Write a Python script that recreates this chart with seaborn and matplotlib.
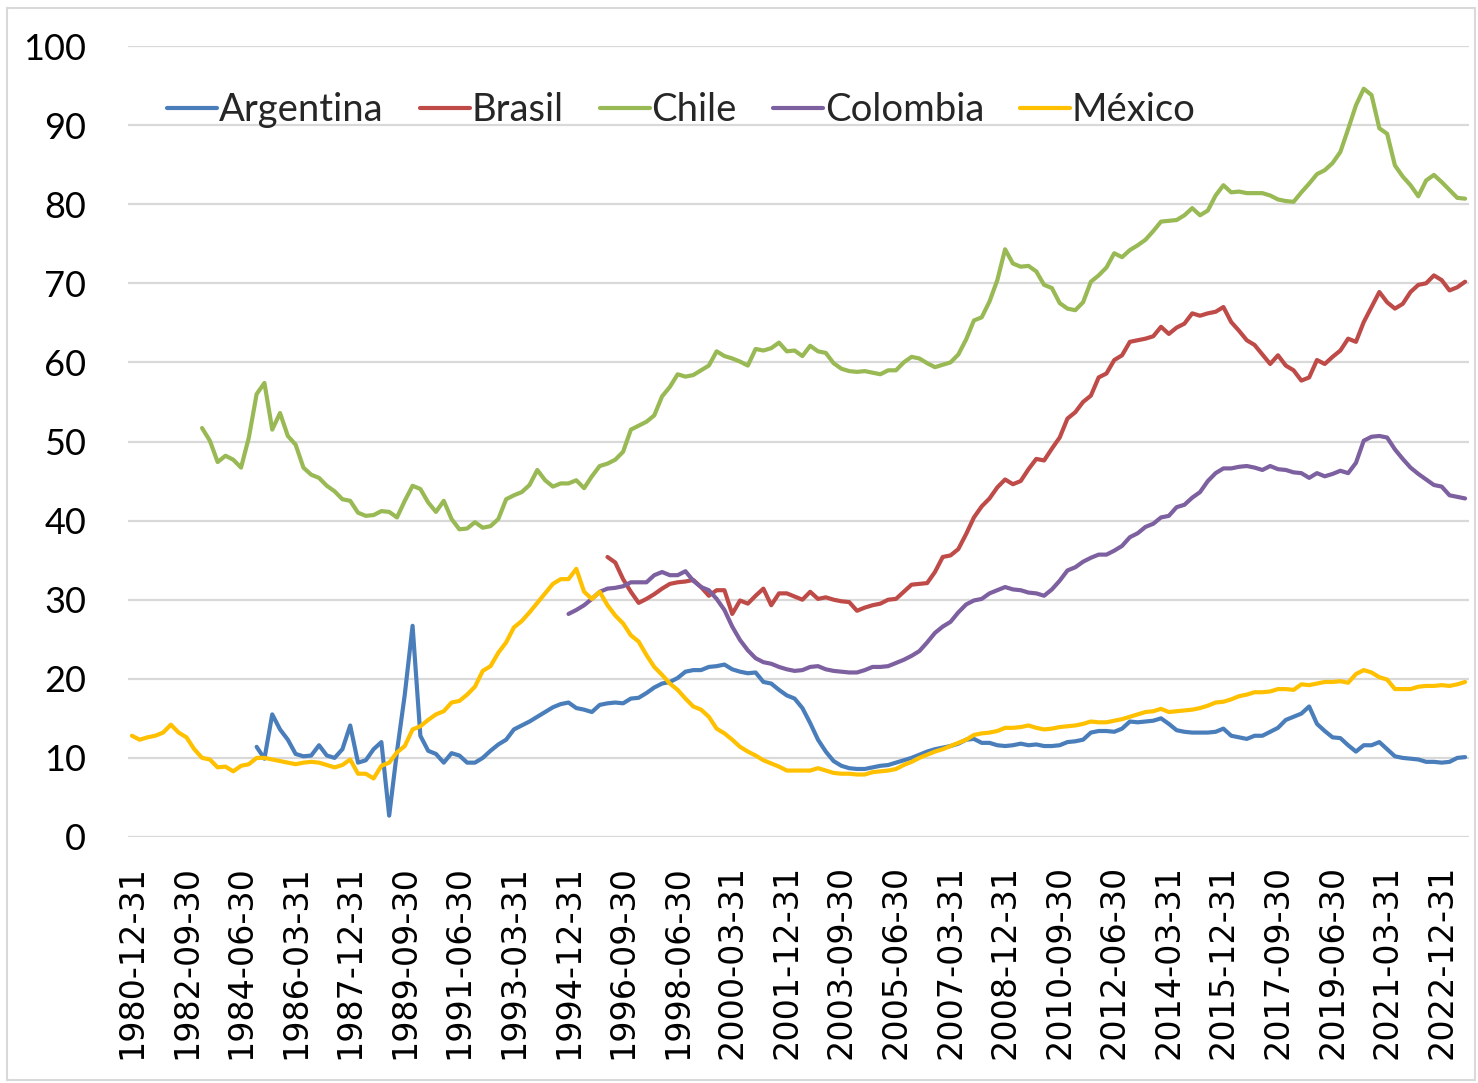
import numpy as np
import pandas as pd
import matplotlib
matplotlib.use("Agg")
import matplotlib.pyplot as plt
from matplotlib.patches import Rectangle
import seaborn as sns

# quarterly series, 1980-12-31 .. 2023-09-30
n_q = 172
dates = pd.date_range("1980-12-31", periods=n_q, freq="QE")

argentina_start = 16
argentina = [
    11.4, 9.9, 15.5, 13.6, 12.3, 10.5, 10.2, 10.3, 11.6, 10.3,
    10.0, 11.1, 14.1, 9.4, 9.7, 11.1, 12.0, 2.7, 10.8, 18.0,
    26.7, 12.8, 10.9, 10.5, 9.4, 10.6, 10.3, 9.4, 9.4, 10.0,
    10.9, 11.7, 12.3, 13.6, 14.1, 14.6, 15.2, 15.8, 16.4, 16.8,
    17.0, 16.3, 16.1, 15.8, 16.7, 16.9, 17.0, 16.9, 17.5, 17.6,
    18.2, 18.9, 19.4, 19.6, 20.1, 20.9, 21.1, 21.1, 21.5, 21.6,
    21.8, 21.2, 20.9, 20.7, 20.8, 19.6, 19.4, 18.6, 17.9, 17.5,
    16.3, 14.4, 12.3, 10.8, 9.6, 9.0, 8.7, 8.6, 8.6, 8.8,
    9.0, 9.1, 9.4, 9.7, 10.0, 10.4, 10.8, 11.1, 11.3, 11.5,
    11.8, 12.3, 12.4, 11.9, 11.9, 11.6, 11.5, 11.6, 11.8, 11.6,
    11.7, 11.5, 11.5, 11.6, 12.0, 12.1, 12.3, 13.2, 13.4, 13.4,
    13.3, 13.7, 14.6, 14.5, 14.6, 14.7, 15.0, 14.3, 13.5, 13.3,
    13.2, 13.2, 13.2, 13.3, 13.7, 12.8, 12.6, 12.4, 12.8, 12.8,
    13.3, 13.8, 14.8, 15.2, 15.6, 16.5, 14.3, 13.4, 12.6, 12.5,
    11.6, 10.8, 11.6, 11.6, 12.0, 11.1, 10.2, 10.0, 9.9, 9.8,
    9.5, 9.5, 9.4, 9.5, 10.0, 10.1,
]

brasil_start = 61
brasil = [
    35.4, 34.7, 32.6, 31.0, 29.6, 30.1, 30.7, 31.4, 32.0, 32.2,
    32.3, 32.5, 31.6, 30.5, 31.2, 31.2, 28.2, 29.9, 29.5, 30.5,
    31.4, 29.3, 30.8, 30.8, 30.4, 30.0, 31.0, 30.1, 30.3, 30.0,
    29.8, 29.7, 28.6, 29.0, 29.3, 29.5, 30.0, 30.1, 31.0, 31.9,
    32.0, 32.1, 33.5, 35.4, 35.6, 36.4, 38.3, 40.4, 41.8, 42.8,
    44.2, 45.2, 44.6, 45.0, 46.5, 47.8, 47.6, 49.1, 50.5, 52.9,
    53.7, 55.0, 55.8, 58.1, 58.6, 60.3, 60.9, 62.6, 62.8, 63.0,
    63.3, 64.5, 63.6, 64.4, 64.9, 66.2, 65.9, 66.2, 66.4, 67.0,
    65.1, 64.0, 62.8, 62.2, 61.0, 59.8, 60.9, 59.6, 59.0, 57.7,
    58.1, 60.3, 59.8, 60.7, 61.5, 63.0, 62.6, 65.1, 67.0, 68.9,
    67.6, 66.8, 67.4, 68.9, 69.8, 70.0, 71.0, 70.4, 69.1, 69.5,
    70.2,
]

chile_start = 9
chile = [
    51.7, 50.1, 47.4, 48.2, 47.7, 46.7, 50.5, 56.0, 57.4, 51.5,
    53.6, 50.7, 49.6, 46.7, 45.8, 45.4, 44.4, 43.7, 42.7, 42.5,
    41.0, 40.6, 40.7, 41.2, 41.1, 40.4, 42.5, 44.4, 44.0, 42.3,
    41.1, 42.5, 40.2, 38.9, 39.0, 39.8, 39.1, 39.3, 40.2, 42.7,
    43.2, 43.6, 44.5, 46.4, 45.1, 44.3, 44.7, 44.7, 45.1, 44.1,
    45.6, 46.9, 47.2, 47.7, 48.7, 51.5, 52.0, 52.5, 53.3, 55.7,
    56.9, 58.5, 58.2, 58.4, 59.0, 59.6, 61.4, 60.8, 60.5, 60.1,
    59.6, 61.7, 61.5, 61.8, 62.5, 61.4, 61.5, 60.8, 62.1, 61.4,
    61.2, 59.9, 59.2, 58.9, 58.8, 58.9, 58.7, 58.5, 59.0, 59.0,
    60.0, 60.7, 60.5, 59.9, 59.4, 59.7, 60.0, 61.0, 62.9, 65.3,
    65.7, 67.7, 70.4, 74.3, 72.5, 72.1, 72.2, 71.5, 69.8, 69.4,
    67.5, 66.8, 66.6, 67.6, 70.2, 71.0, 72.0, 73.8, 73.3, 74.2,
    74.8, 75.5, 76.6, 77.8, 77.9, 78.0, 78.6, 79.5, 78.6, 79.2,
    81.1, 82.4, 81.5, 81.6, 81.4, 81.4, 81.4, 81.1, 80.6, 80.4,
    80.3, 81.5, 82.6, 83.8, 84.3, 85.2, 86.6, 89.5, 92.5, 94.6,
    93.8, 89.6, 88.9, 84.9, 83.5, 82.4, 81.0, 83.0, 83.7, 82.8,
    81.8, 80.8, 80.7,
]

colombia_start = 56
colombia = [
    28.2, 28.7, 29.3, 30.1, 31.0, 31.4, 31.5, 31.7, 32.2, 32.2,
    32.2, 33.1, 33.5, 33.1, 33.1, 33.6, 32.4, 31.6, 31.2, 30.1,
    28.7, 26.6, 24.9, 23.6, 22.6, 22.1, 21.9, 21.5, 21.2, 21.0,
    21.1, 21.5, 21.6, 21.2, 21.0, 20.9, 20.8, 20.8, 21.1, 21.5,
    21.5, 21.6, 22.0, 22.4, 22.9, 23.5, 24.6, 25.8, 26.6, 27.2,
    28.4, 29.4, 29.9, 30.1, 30.8, 31.2, 31.6, 31.3, 31.2, 30.9,
    30.8, 30.5, 31.3, 32.4, 33.7, 34.1, 34.8, 35.3, 35.7, 35.7,
    36.2, 36.8, 37.9, 38.4, 39.2, 39.6, 40.4, 40.6, 41.7, 42.0,
    42.9, 43.6, 45.0, 46.0, 46.6, 46.6, 46.8, 46.9, 46.7, 46.4,
    46.9, 46.5, 46.4, 46.1, 46.0, 45.4, 46.0, 45.6, 45.9, 46.3,
    46.0, 47.3, 50.1, 50.6, 50.7, 50.5, 49.0, 47.8, 46.7, 45.9,
    45.2, 44.5, 44.3, 43.2, 43.0, 42.8,
]

mexico_start = 0
mexico = [
    12.8, 12.3, 12.6, 12.8, 13.2, 14.2, 13.2, 12.6, 11.1, 10.0,
    9.8, 8.8, 8.9, 8.3, 9.0, 9.2, 10.0, 10.0, 9.8, 9.6,
    9.4, 9.2, 9.4, 9.5, 9.4, 9.1, 8.8, 9.1, 9.8, 8.0,
    8.0, 7.4, 9.0, 9.4, 10.7, 11.5, 13.6, 14.0, 14.8, 15.5,
    15.9, 17.0, 17.2, 18.0, 19.0, 21.0, 21.6, 23.3, 24.6, 26.5,
    27.3, 28.4, 29.6, 30.8, 32.0, 32.6, 32.6, 33.9, 31.0, 30.1,
    31.0, 29.3, 28.0, 27.0, 25.5, 24.7, 23.0, 21.5, 20.5, 19.4,
    18.6, 17.5, 16.5, 16.1, 15.2, 13.7, 13.1, 12.3, 11.4, 10.8,
    10.3, 9.7, 9.3, 8.9, 8.4, 8.4, 8.4, 8.4, 8.7, 8.4,
    8.1, 8.0, 8.0, 7.9, 7.9, 8.2, 8.3, 8.4, 8.6, 9.1,
    9.5, 10.0, 10.4, 10.8, 11.1, 11.5, 11.9, 12.3, 12.9, 13.1,
    13.2, 13.4, 13.8, 13.8, 13.9, 14.1, 13.8, 13.6, 13.7, 13.9,
    14.0, 14.1, 14.3, 14.6, 14.5, 14.5, 14.7, 14.9, 15.2, 15.5,
    15.8, 15.9, 16.2, 15.8, 15.9, 16.0, 16.1, 16.3, 16.6, 17.0,
    17.1, 17.4, 17.8, 18.0, 18.3, 18.3, 18.4, 18.7, 18.7, 18.6,
    19.3, 19.2, 19.4, 19.6, 19.6, 19.7, 19.5, 20.6, 21.1, 20.8,
    20.2, 19.9, 18.7, 18.7, 18.7, 19.0, 19.1, 19.1, 19.2, 19.1,
    19.3, 19.6,
]

paises = ["Argentina", "Brasil", "Chile", "Colombia", "México"]
colores = ["#4A7EBB", "#BE4B48", "#98B954", "#7D60A0", "#FFC000"]

series = {
    "Argentina": (argentina_start, argentina),
    "Brasil": (brasil_start, brasil),
    "Chile": (chile_start, chile),
    "Colombia": (colombia_start, colombia),
    "México": (mexico_start, mexico),
}

frames = []
for pais, (start, vals) in series.items():
    frames.append(pd.DataFrame({
        "t": np.arange(start, start + len(vals)),
        "valor": vals,
        "pais": pais,
    }))
df = pd.concat(frames, ignore_index=True)

sns.set_theme(style="white")
plt.rcParams["font.family"] = ["Lato", "DejaVu Sans"]

fig = plt.figure(figsize=(14.78, 10.83), dpi=100)
ax = fig.add_axes([128 / 1478, 1 - 837 / 1083, 1341 / 1478, 791 / 1083])

sns.lineplot(data=df, x="t", y="valor", hue="pais", hue_order=paises,
             palette=dict(zip(paises, colores)), linewidth=3.0,
             estimator=None, ax=ax)

ax.set_xlim(-0.5, n_q - 0.5)
ax.set_ylim(0, 100)
ax.set_yticks(range(0, 101, 10))
ax.yaxis.grid(True, color="#D9D9D9", linewidth=1.6)
ax.xaxis.grid(False)
for s in ax.spines.values():
    s.set_visible(False)

ticks = list(range(0, n_q, 7))
ax.set_xticks(ticks)
ax.set_xticklabels([dates[i].strftime("%Y-%m-%d") for i in ticks],
                   rotation=90, fontsize=24, family="DejaVu Sans", color="black")
ax.tick_params(axis="x", length=0, pad=20)
ax.tick_params(axis="y", length=0, pad=30, labelsize=26, labelcolor="black")
ax.set_xlabel("")
ax.set_ylabel("")

handles, labels = ax.get_legend_handles_labels()
ax.legend(handles, labels, loc="center left", bbox_to_anchor=(0.018, 0.919),
          ncol=5, frameon=False, fontsize=27.5, handlelength=1.3,
          handletextpad=0.05, columnspacing=0.95, borderaxespad=0)

fig.patches.append(Rectangle((7 / 1478, 3 / 1083), 1468 / 1478, 1072 / 1083,
                             transform=fig.transFigure, fill=False,
                             edgecolor="#D9D9D9", linewidth=1.5))

fig.savefig("out.png", dpi=100)
